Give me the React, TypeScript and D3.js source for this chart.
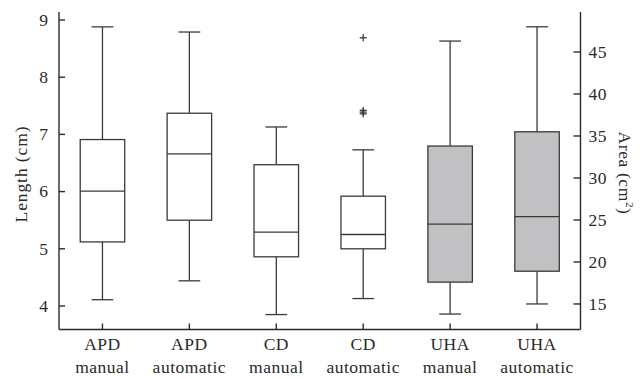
import React from "react";
import * as d3 from "d3";

const groups = ["APD", "APD", "CD", "CD", "UHA", "UHA"];
const methods = ["manual", "automatic", "manual", "automatic", "manual", "automatic"];
const axisSide = ["left", "left", "left", "left", "right", "right"];
const whiskerLow = [4.11, 4.44, 3.85, 4.13, 13.8, 15.0];
const q1 = [5.12, 5.5, 4.86, 5.0, 17.6, 18.9];
const median = [6.01, 6.66, 5.29, 5.25, 24.5, 25.4];
const q3 = [6.91, 7.37, 6.47, 5.92, 33.8, 35.5];
const whiskerHigh = [8.88, 8.79, 7.13, 6.73, 46.3, 48.0];
const outlierIndex = [3, 3, 3, 3];
const outlierValues = [8.69, 7.36, 7.39, 7.42];
const leftTicks = [4, 5, 6, 7, 8, 9];
const rightTicks = [15, 20, 25, 30, 35, 40, 45];

const W = 644;
const H = 379;
const left = 59;
const right = 580.5;
const top = 12;
const bottom = 329.5;
const FONT = "'Liberation Serif', 'DejaVu Serif', serif";
const INK = "#2a2a2a";
const STROKE = "#3a3a3a";

export default function App() {
  const keys = groups.map((g, i) => `${g} ${methods[i]}`);
  const x = d3.scaleBand<string>().domain(keys).range([left, right]).paddingInner(0).paddingOuter(0);
  const yL = d3.scaleLinear().domain([3.589, 9.14]).range([bottom, top]);
  const yR = d3.scaleLinear().domain([11.96, 49.76]).range([bottom, top]);
  const bw = x.bandwidth() * 0.512;
  const cw = x.bandwidth() * 0.25;

  return (
    <svg width={W} height={H} style={{ position: "absolute", left: 0, top: 0 }} fontFamily={FONT}>
      <rect width={W} height={H} fill="#fff" />
      {keys.map((k, i) => {
        const y = axisSide[i] === "left" ? yL : yR;
        const cx = x(k)! + x.bandwidth() / 2;
        const fill = axisSide[i] === "left" ? "#fff" : "#c1c1c4";
        return (
          <g key={k} stroke={STROKE} strokeWidth={1.3}>
            <line x1={cx} x2={cx} y1={y(whiskerHigh[i])} y2={y(q3[i])} />
            <line x1={cx} x2={cx} y1={y(q1[i])} y2={y(whiskerLow[i])} />
            <line x1={cx - cw / 2} x2={cx + cw / 2} y1={y(whiskerHigh[i])} y2={y(whiskerHigh[i])} />
            <line x1={cx - cw / 2} x2={cx + cw / 2} y1={y(whiskerLow[i])} y2={y(whiskerLow[i])} />
            <rect x={cx - bw / 2} width={bw} y={y(q3[i])} height={y(q1[i]) - y(q3[i])} fill={fill} />
            <line x1={cx - bw / 2} x2={cx + bw / 2} y1={y(median[i])} y2={y(median[i])} />
          </g>
        );
      })}
      {outlierValues.map((v, j) => {
        const i = outlierIndex[j];
        const y = axisSide[i] === "left" ? yL : yR;
        const cx = x(keys[i])! + x.bandwidth() / 2;
        const cy = y(v);
        return (
          <g key={j} stroke={STROKE} strokeWidth={1.3}>
            <line x1={cx - 3.5} x2={cx + 3.5} y1={cy} y2={cy} />
            <line x1={cx} x2={cx} y1={cy - 3.5} y2={cy + 3.5} />
          </g>
        );
      })}
      <g stroke={INK} strokeWidth={1.4} fill="none">
        <line x1={left} x2={left} y1={top} y2={bottom} />
        <line x1={right} x2={right} y1={top} y2={bottom} />
        <line x1={left} x2={right} y1={bottom} y2={bottom} />
        {leftTicks.map((t) => (
          <line key={t} x1={left} x2={left + 6} y1={yL(t)} y2={yL(t)} />
        ))}
        {rightTicks.map((t) => (
          <line key={t} x1={right - 7} x2={right} y1={yR(t)} y2={yR(t)} />
        ))}
        {keys.map((k) => (
          <line key={k} x1={x(k)! + x.bandwidth() / 2} x2={x(k)! + x.bandwidth() / 2} y1={bottom} y2={bottom - 6} />
        ))}
      </g>
      <g fill={INK} fontSize={17.5} letterSpacing={0.5}>
        {leftTicks.map((t) => (
          <text key={t} x={left - 10.5} y={yL(t)} dy="0.33em" textAnchor="end">{t}</text>
        ))}
        {rightTicks.map((t) => (
          <text key={t} x={right + 8} y={yR(t)} dy="0.33em" textAnchor="start">{t}</text>
        ))}
        {keys.map((k, i) => (
          <text key={k} x={x(k)! + x.bandwidth() / 2} textAnchor="middle">
            <tspan x={x(k)! + x.bandwidth() / 2} y={350}>{groups[i]}</tspan>
            <tspan x={x(k)! + x.bandwidth() / 2} y={373}>{methods[i]}</tspan>
          </text>
        ))}
        <text transform={`translate(27,174) rotate(-90)`} textAnchor="middle" letterSpacing={0.9}>Length (cm)</text>
        <text transform={`translate(619,173) rotate(90)`} textAnchor="middle" letterSpacing={0.6}>
          Area (cm<tspan fontSize={11} dy={-7}>2</tspan><tspan dy={7}>)</tspan>
        </text>
      </g>
    </svg>
  );
}
